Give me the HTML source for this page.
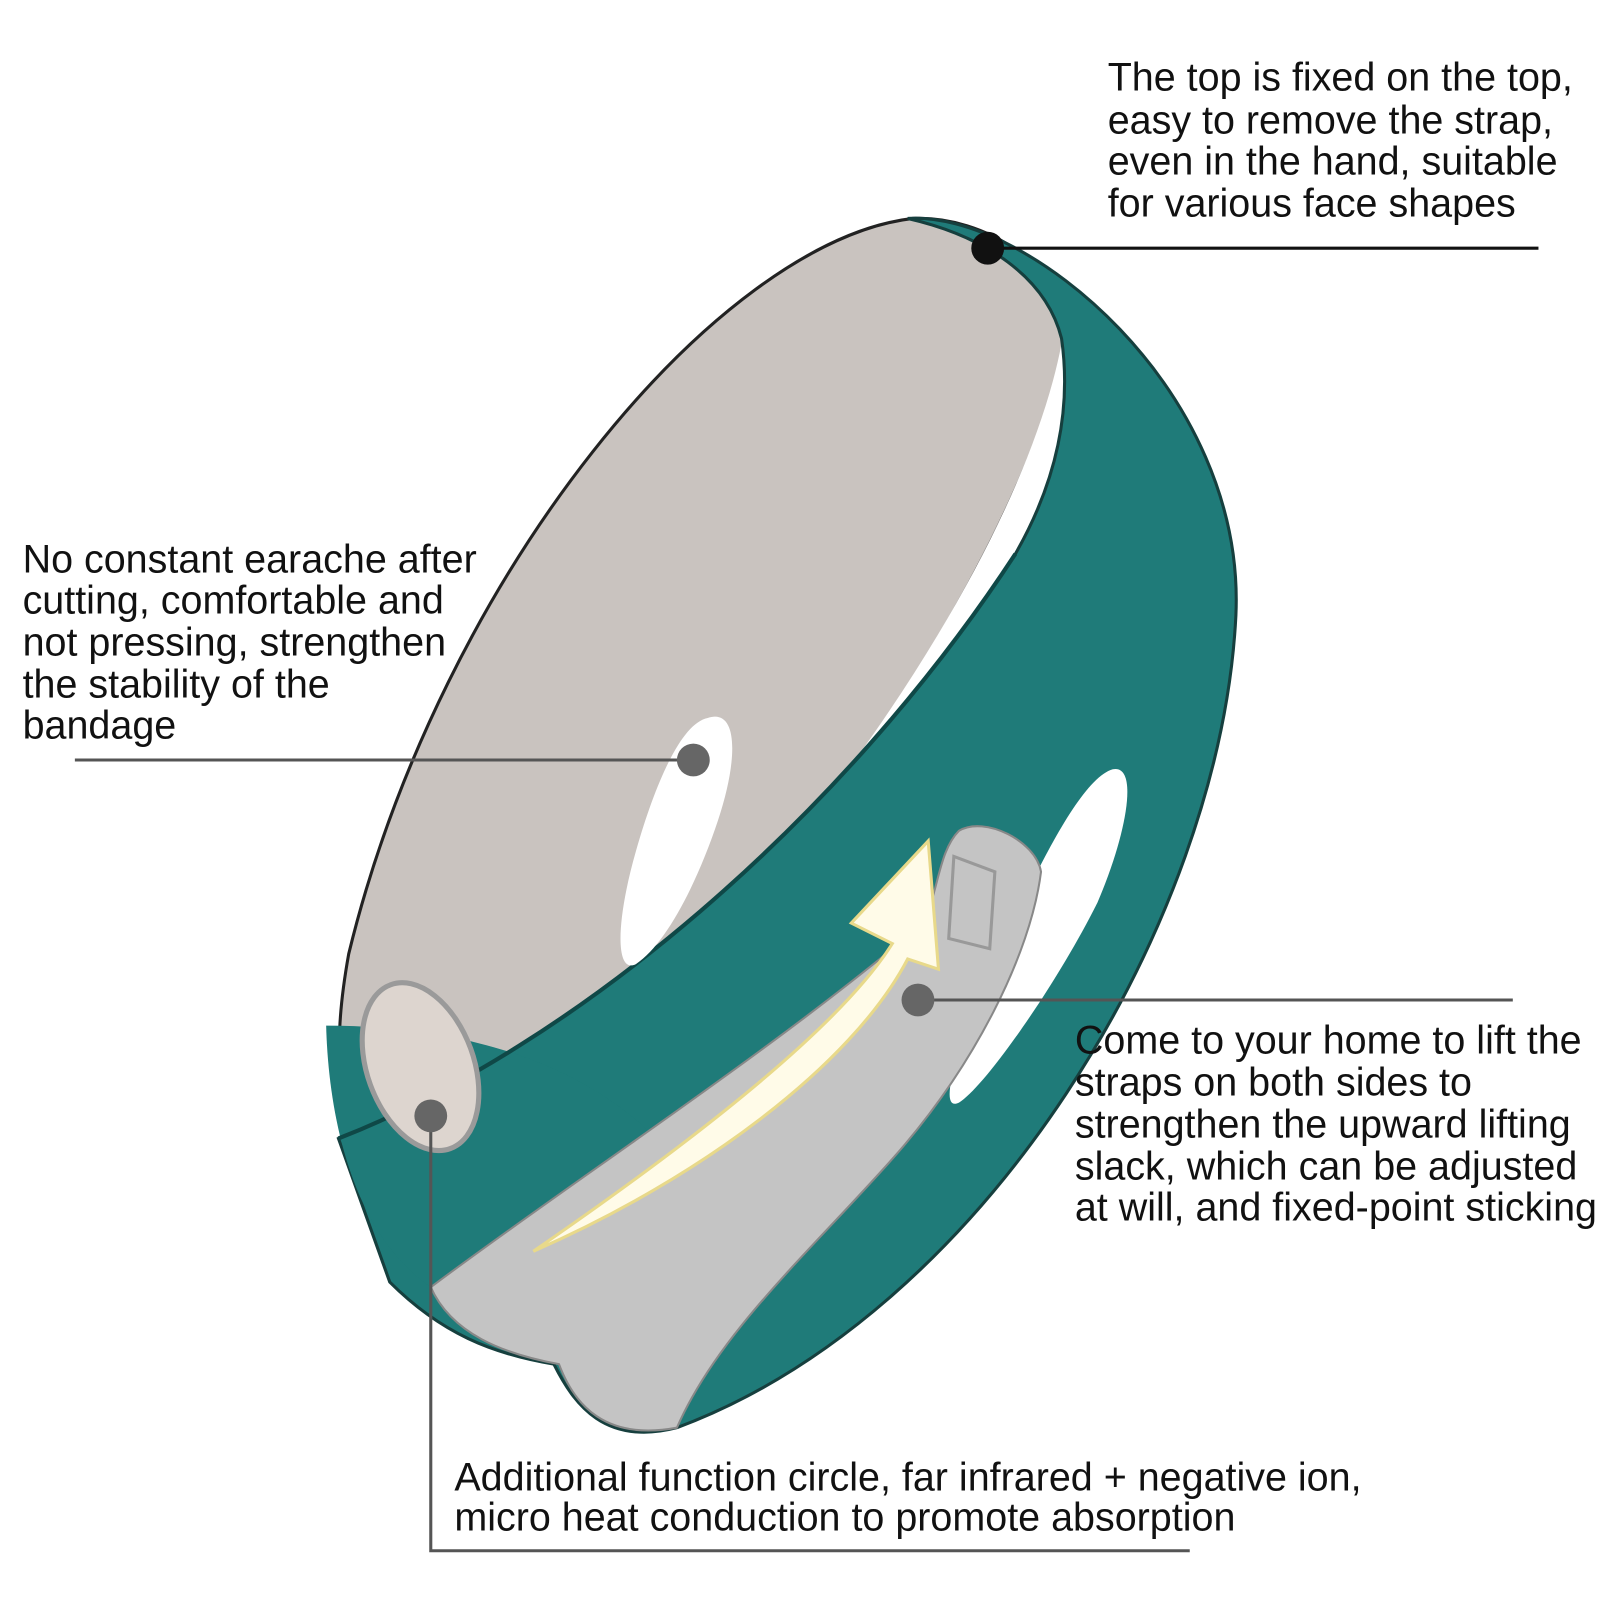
<!DOCTYPE html>
<html><head><meta charset="utf-8"><style>
body{margin:0;background:#fff;width:1600px;height:1600px;overflow:hidden}
svg{display:block}
text{font-family:"Liberation Sans",Arial,sans-serif;font-size:38.5px;fill:#111}
</style></head><body>
<svg width="1600" height="1600" viewBox="0 0 1560 1560">
<!-- lining (back, gray) -->
<path d="M890 213 C700 235 430 560 340 930 C322 1030 330 1090 370 1110 L620 1010 C820 800 1000 520 1040 330 C1040 260 960 210 890 213 Z" fill="#c9c3bf" stroke="#222" stroke-width="3"/>
<!-- inner white gap -->
<path d="M1035 335 C1000 520 820 800 600 1010 L660 1000 C860 800 1030 560 1050 360 Z" fill="#fff"/>
<!-- teal outer band -->
<path d="M885 213 C1000 205 1215 380 1205 600 C1190 900 960 1280 660 1392 C590 1410 560 1370 540 1330 C480 1320 430 1300 380 1250 L330 1110 C560 1020 820 800 990 540 C1030 470 1045 400 1035 330 C1020 270 960 230 885 213 Z" fill="#1f7b79" stroke="#163f3e" stroke-width="3"/>
<path d="M318 1000 C320 1080 340 1200 420 1255 L640 1110 C560 1030 440 1000 318 1000 Z" fill="#1f7b79"/>
<path d="M330 1110 C560 1020 820 800 990 540" fill="none" stroke="#0f4847" stroke-width="4"/>
<!-- ear holes -->
<path d="M690 700 C720 690 720 740 700 800 C680 860 650 920 620 940 C600 950 600 900 620 830 C640 760 665 705 690 700 Z" fill="#fff"/>
<path d="M1085 750 C1110 745 1100 810 1070 880 C1030 960 960 1060 935 1075 C915 1085 930 1030 960 960 C1000 870 1050 760 1085 750 Z" fill="#fff"/>
<!-- function pad -->
<ellipse cx="410" cy="1040" rx="52" ry="85" transform="rotate(-20 410 1040)" fill="#ddd5cf" stroke="#9a9a9a" stroke-width="5"/>
<!-- gray strap -->
<path d="M420 1255 C560 1150 760 1020 900 900 C915 870 915 830 935 810 C960 795 1010 820 1015 850 C1005 930 950 1040 870 1130 C790 1220 700 1300 660 1392 C590 1405 560 1370 545 1330 C490 1320 440 1300 420 1255 Z" fill="#c4c4c4" stroke="#888" stroke-width="2"/>
<path d="M930 835 L970 850 L965 925 L925 915 Z" fill="none" stroke="#999" stroke-width="3"/>
<!-- arrow -->
<path d="M520 1220 C680 1110 820 1000 870 920 L830 900 L905 820 L915 945 L885 935 C830 1040 680 1150 520 1220 Z" fill="#fffbe8" stroke="#e8d98a" stroke-width="3"/>
<!-- callout lines -->
<g stroke="#555" stroke-width="3" fill="none">
<line x1="960" y1="242" x2="1500" y2="242" stroke="#111"/>
<line x1="73" y1="741" x2="676" y2="741"/>
<line x1="895" y1="975" x2="1475" y2="975"/>
<polyline points="420,1088 420,1512 1160,1512"/>
</g>
<circle cx="963" cy="242" r="16" fill="#111"/>
<circle cx="676" cy="741" r="16" fill="#666"/>
<circle cx="895" cy="975" r="16" fill="#666"/>
<circle cx="420" cy="1088" r="16" fill="#666"/>
<text x="1080" y="88">The top is fixed on the top,</text>
<text x="1080" y="130">easy to remove the strap,</text>
<text x="1080" y="170">even in the hand, suitable</text>
<text x="1080" y="211">for various face shapes</text>
<text x="22" y="558">No constant earache after</text>
<text x="22" y="598">cutting, comfortable and</text>
<text x="22" y="639">not pressing, strengthen</text>
<text x="22" y="680">the stability of the</text>
<text x="22" y="720">bandage</text>
<text x="1048" y="1027">Come to your home to lift the</text>
<text x="1048" y="1068">straps on both sides to</text>
<text x="1048" y="1109">strengthen the upward lifting</text>
<text x="1048" y="1150">slack, which can be adjusted</text>
<text x="1048" y="1190">at will, and fixed-point sticking</text>
<text x="443" y="1453">Additional function circle, far infrared + negative ion,</text>
<text x="443" y="1492">micro heat conduction to promote absorption</text>
</svg>
</body></html>
